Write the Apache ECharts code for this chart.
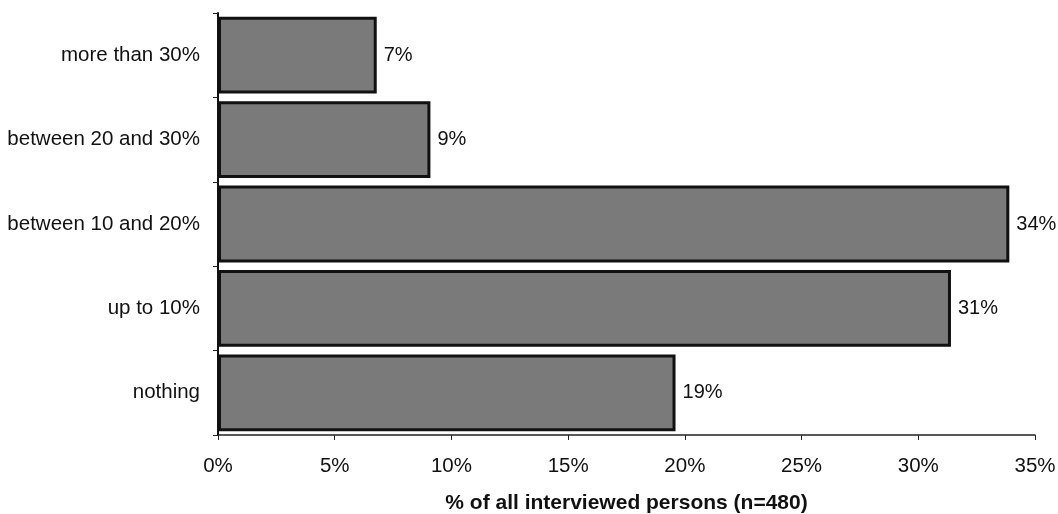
<!DOCTYPE html>
<html>
<head>
<meta charset="utf-8">
<script src="https://cdn.jsdelivr.net/npm/echarts@6/dist/echarts.min.js"></script>
<style>
  html, body { margin: 0; padding: 0; background: #fff; }
  #chart { width: 1058px; height: 514px; }
</style>
</head>
<body>
<div id="chart"></div>
<script>
// categories listed bottom to top (category y axis starts at the bottom)
var categories = ['nothing', 'up to 10%', 'between 10 and 20%', 'between 20 and 30%', 'more than 30%']
var shares = [19.6, 31.4, 33.9, 9.1, 6.8]
var shareLabels = ['19%', '31%', '34%', '9%', '7%']
var xTicks = [0, 5, 10, 15, 20, 25, 30, 35]

var font = 'Liberation Sans, Arial, sans-serif'

var chart = echarts.init(document.getElementById('chart'))

chart.setOption({
  animation: false,
  grid: { left: 218, right: 23, top: 13, bottom: 79, containLabel: false, outerBoundsMode: 'none' },
  xAxis: {
    type: 'value',
    min: xTicks[0],
    max: xTicks[xTicks.length - 1],
    interval: 5,
    name: '% of all interviewed persons (n=480)',
    nameLocation: 'middle',
    nameGap: 58,
    nameTextStyle: { color: '#111', fontFamily: font, fontSize: 21, fontWeight: 'bold' },
    axisLine: { show: true, lineStyle: { color: '#222', width: 1.5 } },
    axisTick: { show: true, length: 5, lineStyle: { color: '#222' } },
    axisLabel: {
      color: '#111', fontFamily: font, fontSize: 20.5, margin: 21,
      formatter: function (v) { return v + '%' }
    },
    splitLine: { show: false }
  },
  yAxis: {
    type: 'category',
    data: categories,
    axisLine: { show: true, lineStyle: { color: '#111', width: 2 } },
    axisTick: { show: true, length: 5, lineStyle: { color: '#222' } },
    axisLabel: { color: '#111', fontFamily: font, fontSize: 20.5, margin: 18 }
  },
  series: [{
    type: 'bar',
    data: shares,
    barCategoryGap: '9%',
    itemStyle: { color: '#7a7a7a', borderColor: '#111', borderWidth: 3 },
    label: {
      show: true,
      position: 'right',
      distance: 7,
      color: '#111',
      fontFamily: font,
      fontSize: 20,
      formatter: function (p) { return shareLabels[p.dataIndex] }
    }
  }]
})
</script>
</body>
</html>
